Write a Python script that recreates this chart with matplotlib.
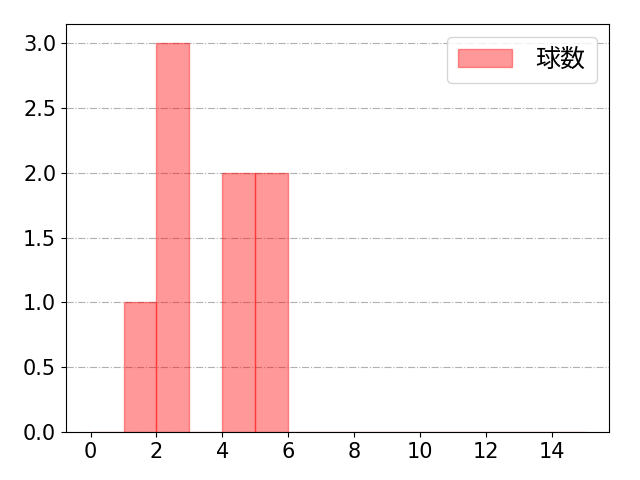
import matplotlib
matplotlib.use("Agg")
import matplotlib.pyplot as plt
import numpy as np

plt.rcParams['font.family'] = ['DejaVu Sans', 'Noto Sans CJK JP']

pitch_counts = [1, 2, 2, 2, 4, 4, 5, 5]
bin_edges = list(range(0, 16))
label = "球数"

fig, ax = plt.subplots(figsize=(6.4, 4.8), dpi=100)
ax.hist(pitch_counts, bins=bin_edges, color='red', alpha=0.4, edgecolor='red', label=label, zorder=2)
ax.grid(axis='y', linestyle='-.', color='#b0b0b0', zorder=0)
ax.set_axisbelow(True)
ax.tick_params(labelsize=15)
ax.set_xticks(range(0, 16, 2))
ax.legend(fontsize=18, handlelength=2.15, handletextpad=0.95, borderpad=0.45)
fig.subplots_adjust(left=0.103, right=0.952, top=0.95, bottom=0.1)
fig.savefig("out.png")
